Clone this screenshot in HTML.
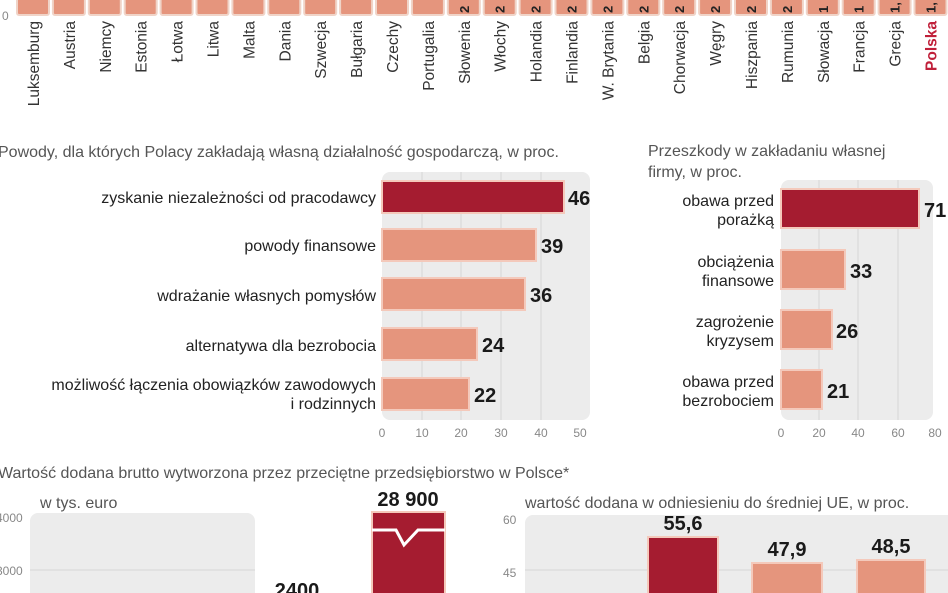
<!DOCTYPE html>
<html><head><meta charset="utf-8"><style>
body{margin:0;background:#fff;width:948px;height:593px;overflow:hidden}
svg{display:block;font-family:"Liberation Sans",sans-serif}
.l{font-size:16px;fill:#222}
.v{font-size:20px;font-weight:bold;fill:#1a1a1a;font-family:"Liberation Sans Narrow","Liberation Sans",sans-serif}
.t{font-size:12px;fill:#888}
.h{font-size:16px;fill:#555}
</style></head><body>
<svg width="948" height="593" viewBox="0 0 948 593">
<text x="2" y="20" class="t" font-size="11">0</text>
<g id="top"></g>
<text x="-2" y="157" class="h">Powody, dla których Polacy zakładają własną działalność gospodarczą, w proc.</text>
<rect x="382" y="172" width="208" height="248" rx="8" fill="#ececec"/>
<g stroke="#d6d6d6"><line x1="422" y1="172" x2="422" y2="420"/><line x1="461" y1="172" x2="461" y2="420"/><line x1="501" y1="172" x2="501" y2="420"/><line x1="541" y1="172" x2="541" y2="420"/></g>
<g stroke="#f4c9bb" stroke-width="2">
<rect x="382" y="181" width="182" height="32" fill="#a51c30"/>
<rect x="382" y="229" width="154" height="32" fill="#e5957d"/>
<rect x="382" y="278" width="143" height="32" fill="#e5957d"/>
<rect x="382" y="328" width="95" height="32" fill="#e5957d"/>
<rect x="382" y="378" width="87" height="32" fill="#e5957d"/>
</g>
<g class="l" text-anchor="end">
<text x="376" y="203">zyskanie niezależności od pracodawcy</text>
<text x="376" y="251">powody finansowe</text>
<text x="376" y="301">wdrażanie własnych pomysłów</text>
<text x="376" y="351">alternatywa dla bezrobocia</text>
<text x="376" y="390">możliwość łączenia obowiązków zawodowych</text>
<text x="376" y="409">i rodzinnych</text>
</g>
<g class="v"><text x="568" y="205">46</text><text x="541" y="253">39</text><text x="530" y="302">36</text><text x="482" y="352">24</text><text x="474" y="402">22</text></g>
<g class="t" text-anchor="middle"><text x="382" y="437">0</text><text x="422" y="437">10</text><text x="461" y="437">20</text><text x="501" y="437">30</text><text x="541" y="437">40</text><text x="580" y="437">50</text></g>
<text x="648" y="156" class="h" font-size="15">Przeszkody w zakładaniu własnej</text>
<text x="648" y="177" class="h" font-size="15">firmy, w proc.</text>
<rect x="781" y="180" width="152" height="240" rx="8" fill="#ececec"/>
<g stroke="#d6d6d6"><line x1="819" y1="180" x2="819" y2="420"/><line x1="858" y1="180" x2="858" y2="420"/><line x1="898" y1="180" x2="898" y2="420"/></g>
<g stroke="#f4c9bb" stroke-width="2">
<rect x="781" y="189" width="138" height="39" fill="#a51c30"/>
<rect x="781" y="250" width="64" height="39" fill="#e5957d"/>
<rect x="781" y="310" width="51" height="39" fill="#e5957d"/>
<rect x="781" y="370" width="41" height="39" fill="#e5957d"/>
</g>
<g class="l" text-anchor="end">
<text x="774" y="206">obawa przed</text><text x="774" y="225">porażką</text>
<text x="774" y="267">obciążenia</text><text x="774" y="286">finansowe</text>
<text x="774" y="327">zagrożenie</text><text x="774" y="346">kryzysem</text>
<text x="774" y="387">obawa przed</text><text x="774" y="406">bezrobociem</text>
</g>
<g class="v"><text x="924" y="217">71</text><text x="850" y="278">33</text><text x="836" y="338">26</text><text x="827" y="398">21</text></g>
<g class="t" text-anchor="middle"><text x="781" y="437">0</text><text x="819" y="437">20</text><text x="858" y="437">40</text><text x="898" y="437">60</text><text x="935" y="437">80</text></g>
<text x="-2" y="478" class="h" font-size="15">Wartość dodana brutto wytworzona przez przeciętne przedsiębiorstwo w Polsce*</text>
<text x="40" y="508" class="h" font-size="15">w tys. euro</text>
<text x="-4" y="522" class="t">4000</text><text x="-4" y="575" class="t">3000</text>
<rect x="30" y="513" width="225" height="90" rx="8" fill="#ececec"/>
<line x1="30" y1="570" x2="255" y2="570" stroke="#d6d6d6"/>
<rect x="372" y="512" width="73" height="90" fill="#a51c30" stroke="#f4c9bb" stroke-width="2"/>
<polyline points="372,530 396,530 404,545 418,530 445,530" fill="none" stroke="#fff" stroke-width="3"/>
<text x="408" y="506" class="v" text-anchor="middle">28 900</text>
<text x="297" y="597" class="v" text-anchor="middle">2400</text>
<text x="525" y="508" class="h" font-size="15">wartość dodana w odniesieniu do średniej UE, w proc.</text>
<text x="503" y="524" class="t">60</text><text x="503" y="577" class="t">45</text>
<rect x="525" y="515" width="430" height="90" rx="8" fill="#ececec"/>
<line x1="525" y1="570" x2="948" y2="570" stroke="#d6d6d6"/>
<g stroke="#f4c9bb" stroke-width="2">
<rect x="648" y="537" width="70" height="70" fill="#a51c30"/>
<rect x="752" y="563" width="70" height="40" fill="#e5957d"/>
<rect x="857" y="560" width="68" height="40" fill="#e5957d"/>
</g>
<g class="v" text-anchor="middle"><text x="683" y="530">55,6</text><text x="787" y="556">47,9</text><text x="891" y="553">48,5</text></g>
</svg>
<script>
var n=["Luksemburg","Austria","Niemcy","Estonia","Łotwa","Litwa","Malta","Dania","Szwecja","Bułgaria","Czechy","Portugalia","Słowenia","Włochy","Holandia","Finlandia","W. Brytania","Belgia","Chorwacja","Węgry","Hiszpania","Rumunia","Słowacja","Francja","Grecja","Polska"];
var d=["","","","","","","","","","","","","2","2","2","2","2","2","2","2","2","2","1","1","1,","1,"];
var g=document.getElementById("top"),s="";
for(var i=0;i<26;i++){var c=33+i*35.9;
s+='<rect x="'+(c-16)+'" y="-4" width="32" height="19" rx="2" fill="#e5957d" stroke="#f0d4c8" stroke-width="2"/>';
if(d[i])s+='<text transform="translate('+(c+5)+',13) rotate(-90)" font-size="13" font-weight="bold" fill="#222">'+d[i]+'</text>';
s+='<text transform="translate('+(c+6)+',21) rotate(-90)" text-anchor="end" font-size="15.5" fill="'+(i==25?'#c0203a':'#333')+'"'+(i==25?' font-weight="bold"':'')+'>'+n[i]+'</text>';}
g.innerHTML=s;
</script>
</body></html>
